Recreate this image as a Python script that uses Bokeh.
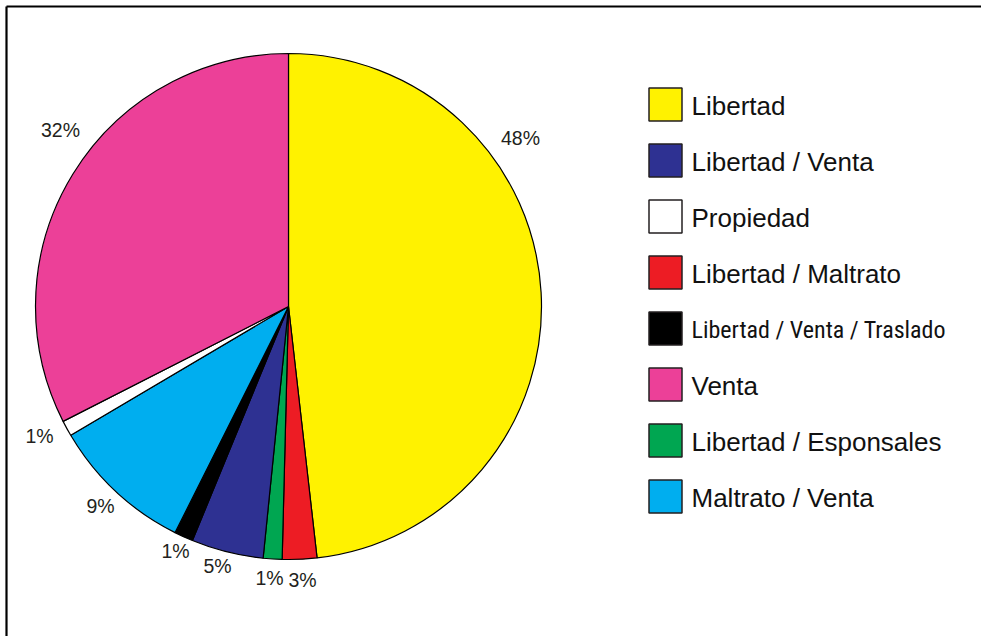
import math
from bokeh.plotting import figure
from bokeh.models import Range1d, ColumnDataSource
from bokeh.core.properties import value
from bokeh.embed import file_html
from bokeh.resources import INLINE

# ---- data (clockwise from 12 o'clock) ----
categories = ["Libertad", "Libertad / Maltrato", "Libertad / Esponsales", "Libertad / Venta",
              "Libertad / Venta / Traslado", "Maltrato / Venta", "Propiedad", "Venta"]
shares = [48.2, 2.2, 1.2, 4.6, 1.2, 9.1, 1.0, 32.5]
pct_labels = ["48%", "3%", "1%", "5%", "1%", "9%", "1%", "32%"]
legend_order = ["Libertad", "Libertad / Venta", "Propiedad", "Libertad / Maltrato",
                "Libertad / Venta / Traslado", "Venta", "Libertad / Esponsales", "Maltrato / Venta"]

# ---- styles / layout ----
colors = {
    "Libertad": "#FFF200",
    "Libertad / Maltrato": "#ED1C24",
    "Libertad / Esponsales": "#00A651",
    "Libertad / Venta": "#2E3192",
    "Libertad / Venta / Traslado": "#000000",
    "Maltrato / Venta": "#00AEEF",
    "Propiedad": "#FFFFFF",
    "Venta": "#EC4098",
}
# label anchor (page px: x centre, baseline y)
label_pos = [(520, 145), (302, 587), (269, 585), (217, 573), (175, 558), (100, 513), (39, 443), (60, 137)]
cx, cy, r = 288, 306, 253
W, H = 981, 636

p = figure(width=W, height=H, output_backend="svg", toolbar_location=None,
           x_range=Range1d(0, W), y_range=Range1d(-H, 0),
           min_border=0)
p.axis.visible = False
p.grid.visible = False
p.outline_line_color = None
p.background_fill_color = "white"
p.border_fill_color = "white"

# frame (top and left)
p.line(x=[6, W], y=[-6, -6], line_color="black", line_width=2.2)
p.line(x=[6, 6], y=[-6, -H], line_color="black", line_width=2.2)

# wedges
total = sum(shares)
starts, ends = [], []
acc = 0.0
for s in shares:
    starts.append(math.pi / 2 - acc / total * 2 * math.pi)
    acc += s
    ends.append(math.pi / 2 - acc / total * 2 * math.pi)
src = ColumnDataSource(dict(start=starts, end=ends, color=[colors[c] for c in categories]))
p.wedge(x=cx, y=-cy, radius=r, start_angle="start", end_angle="end", direction="clock",
        fill_color="color", line_color="black", line_width=1.2, source=src)

# percentage labels
p.text(x=[q[0] for q in label_pos], y=[-(q[1] - 8) for q in label_pos], text=pct_labels,
       text_font=value("Liberation Sans"), text_font_size="19.5px", text_color="#231F20",
       text_align="center", text_baseline="alphabetic")

# legend
row_y = [104 + 56 * i for i in range(len(legend_order))]
p.rect(x=[665] * len(legend_order), y=[-y for y in row_y], width=33, height=33,
       fill_color=[colors[c] for c in legend_order], line_color="#231F20", line_width=1.5)
normal = [i for i, c in enumerate(legend_order) if c != "Libertad / Venta / Traslado"]
narrow = [i for i, c in enumerate(legend_order) if c == "Libertad / Venta / Traslado"]
p.text(x=[691] * len(normal), y=[-(row_y[i] + 1) for i in normal], text=[legend_order[i] for i in normal],
       text_font=value("Liberation Sans"), text_font_size="26px", text_color="#111111",
       text_align="left", text_baseline="alphabetic")
p.text(x=[691] * len(narrow), y=[-(row_y[i] + 1) for i in narrow], text=[legend_order[i] for i in narrow],
       text_font=value("'Liberation Sans Narrow', 'Roboto Condensed', 'Arial Narrow', 'Liberation Sans'"),
       text_font_size="24px", text_color="#111111",
       text_align="left", text_baseline="alphabetic")

open("out.html", "w").write(file_html(p, INLINE))
